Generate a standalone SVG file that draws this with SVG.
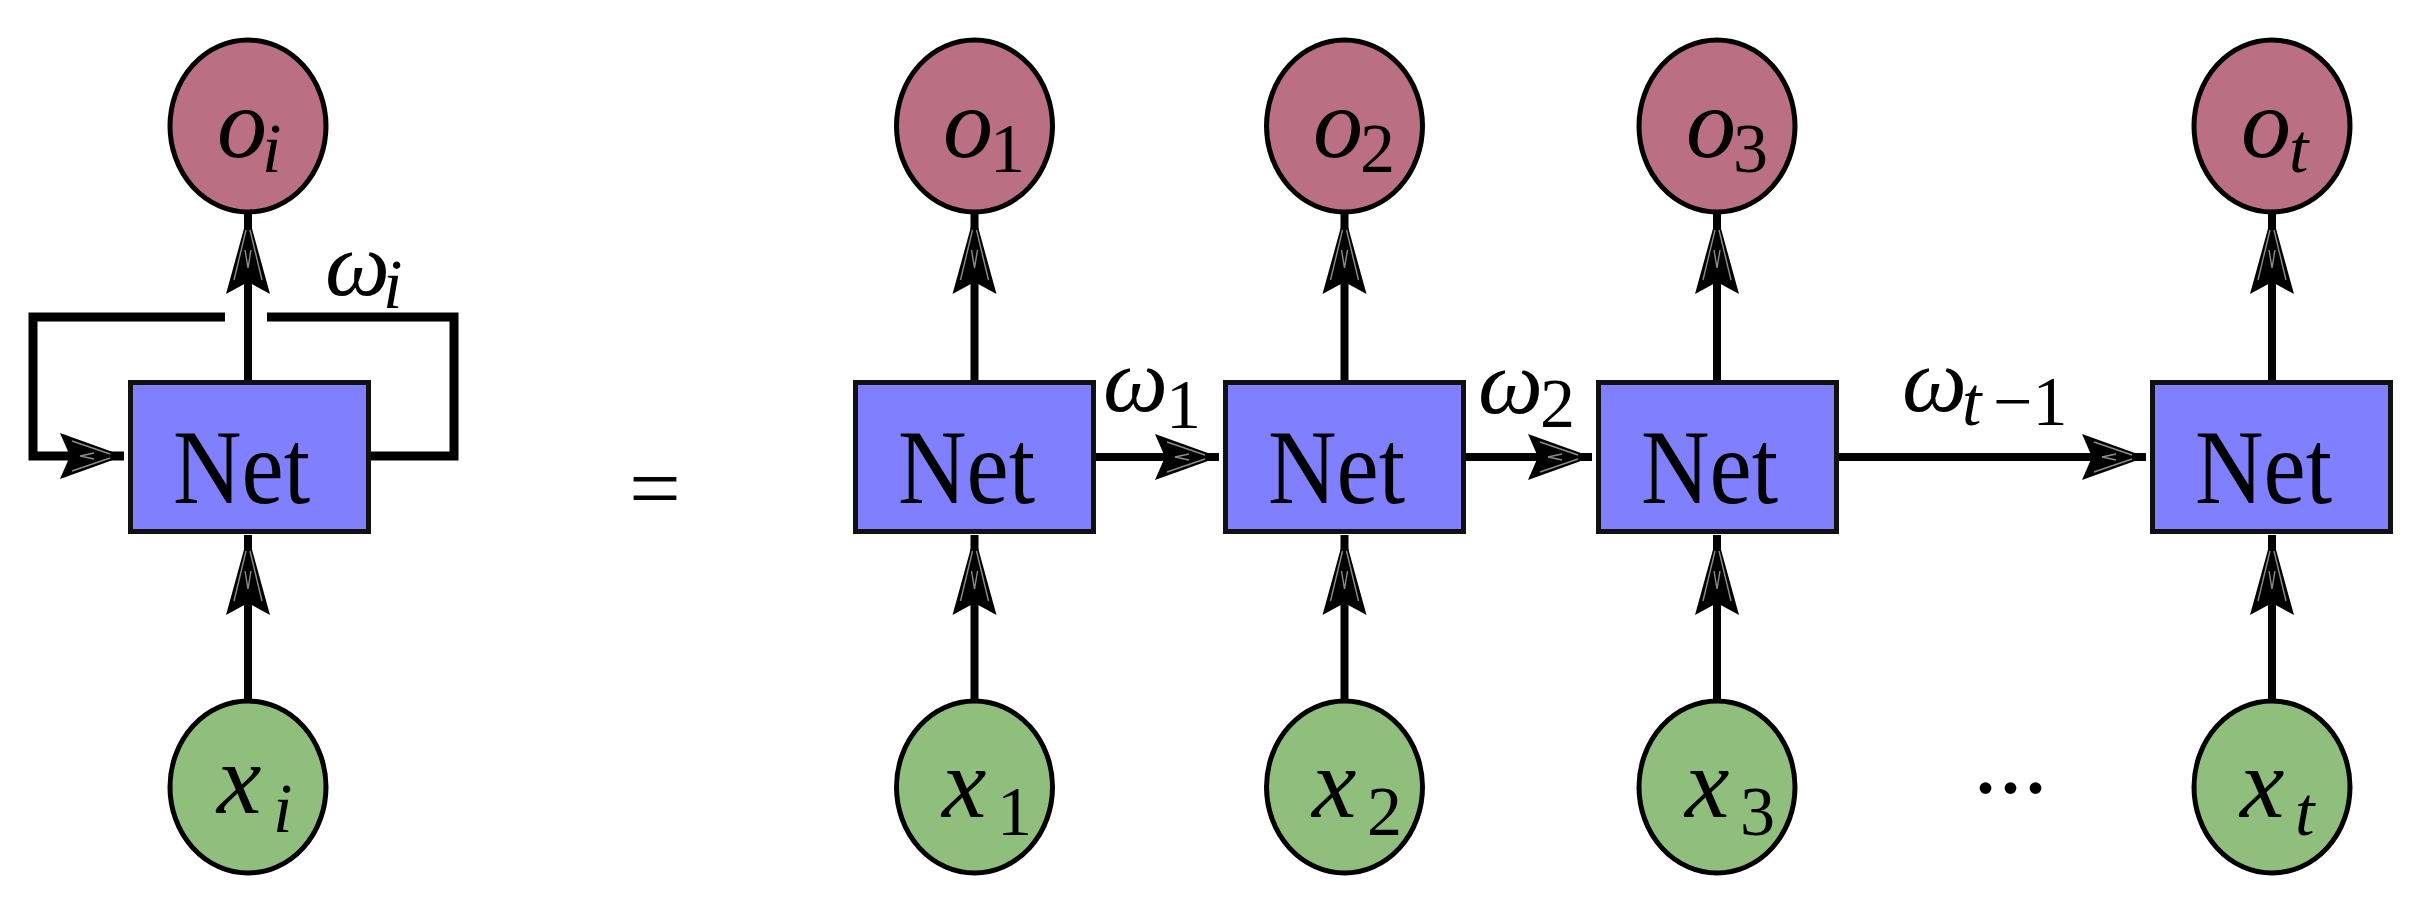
<svg xmlns="http://www.w3.org/2000/svg" width="2426" height="922" viewBox="0 0 2426 922">
<style>
.bg{fill:#fff}
.net rect{fill:#8080FF;stroke:#111;stroke-width:5}
.net text{font-family:"Liberation Serif","Times New Roman",serif;font-size:106px;fill:#000}
.out ellipse{fill:#BA7082;stroke:#000;stroke-width:5}
.inp ellipse{fill:#8FBE7D;stroke:#000;stroke-width:5}
.m{font-family:"Liberation Serif","Times New Roman",serif;font-style:italic;font-size:100px;fill:#000}
.s{font-size:70px}
.r{font-style:normal}
.w{font-family:"Liberation Serif","Times New Roman",serif;font-style:italic;font-size:92px;fill:#000}
.eq{font-family:"Liberation Serif","Times New Roman",serif;font-size:92px;fill:#000}
.edge{fill:none;stroke:#000;stroke-width:8}
.loop{fill:none;stroke:#000;stroke-width:9}
</style>
<defs>
<marker id="ah" markerUnits="userSpaceOnUse" viewBox="-70 -25 75 50" markerWidth="75" markerHeight="50" refX="0" refY="0" orient="auto" overflow="visible">
<path d="M0,0 L-64,-23 L-54,0 L-64,23 Z" fill="#000"/>
<path d="M-14,-2 L-52,-15 M-14,2 L-52,15 M-30,-3 L-44,0 L-30,3" stroke="#fff" stroke-width="1.4" opacity="0.55" fill="none"/>
</marker>
<marker id="av" markerUnits="userSpaceOnUse" viewBox="-85 -25 90 50" markerWidth="90" markerHeight="50" refX="0" refY="0" orient="auto" overflow="visible">
<path d="M0,0 L-80,-22 L-68,0 L-80,22 Z" fill="#000"/>
<path d="M-16,-2 L-66,-14 M-16,2 L-66,14 M-36,-3 L-54,0 L-36,3" stroke="#fff" stroke-width="1.4" opacity="0.55" fill="none"/>
</marker>
</defs>
<rect class="bg" x="0" y="0" width="2426" height="922"/>

<g id="connectors">
<path class="edge" d="M248,380 L248,214" marker-end="url(#av)"/>
<path class="edge" d="M248,701 L248,535" marker-end="url(#av)"/>
<path class="loop" d="M370,456 L454,456 L454,317 L267,317"/>
<path class="loop" d="M225,317 L33,317 L33,456 L124,456" marker-end="url(#ah)"/>
<path class="edge" d="M974.5,380 L974.5,214" marker-end="url(#av)"/>
<path class="edge" d="M974.5,701 L974.5,535" marker-end="url(#av)"/>
<path class="edge" d="M1344.5,380 L1344.5,214" marker-end="url(#av)"/>
<path class="edge" d="M1344.5,701 L1344.5,535" marker-end="url(#av)"/>
<path class="edge" d="M1717,380 L1717,214" marker-end="url(#av)"/>
<path class="edge" d="M1717,701 L1717,535" marker-end="url(#av)"/>
<path class="edge" d="M2272,380 L2272,214" marker-end="url(#av)"/>
<path class="edge" d="M2272,701 L2272,535" marker-end="url(#av)"/>
<path class="edge" d="M1096,457 L1219,457" marker-end="url(#ah)"/>
<path class="edge" d="M1466,457 L1592,457" marker-end="url(#ah)"/>
<path class="edge" d="M1838,457 L2146,457" marker-end="url(#ah)"/>
</g>

<g id="labels">
<text class="w" x="325" y="295">ω<tspan class="s" x="383" y="308">i</tspan></text>
<text class="w" x="1103" y="411">ω<tspan class="s r" x="1166" y="428">1</tspan></text>
<text class="w" x="1478" y="413">ω<tspan class="s r" x="1540" y="427">2</tspan></text>
<text class="w" x="1902" y="411">ω<tspan class="s" x="1962" y="425">t</tspan><tspan class="s r" x="1993" y="425">−1</tspan></text>
<text class="eq" x="629" y="519">=</text>
<text class="eq" x="1973" y="793" style="font-size:100px">...</text>
</g>

<g id="net-fold" class="net"><rect x="130.5" y="382.5" width="238" height="149"/><text x="173" y="503" textLength="137" lengthAdjust="spacingAndGlyphs">Net</text></g>
<g id="net-1" class="net"><rect x="855.5" y="382.5" width="238" height="149"/><text x="898" y="503" textLength="137" lengthAdjust="spacingAndGlyphs">Net</text></g>
<g id="net-2" class="net"><rect x="1225.5" y="382.5" width="238" height="149"/><text x="1268" y="503" textLength="137" lengthAdjust="spacingAndGlyphs">Net</text></g>
<g id="net-3" class="net"><rect x="1598.5" y="382.5" width="238" height="149"/><text x="1641" y="503" textLength="137" lengthAdjust="spacingAndGlyphs">Net</text></g>
<g id="net-t" class="net"><rect x="2152.5" y="382.5" width="238" height="149"/><text x="2195" y="503" textLength="137" lengthAdjust="spacingAndGlyphs">Net</text></g>

<g id="o-i" class="out"><ellipse cx="248" cy="126" rx="78" ry="86"/><text class="m" x="217" y="157">o<tspan class="s" x="262" y="172">i</tspan></text></g>
<g id="o-1" class="out"><ellipse cx="974.5" cy="126" rx="78" ry="86"/><text class="m" x="943" y="157">o<tspan class="s r" x="990" y="172">1</tspan></text></g>
<g id="o-2" class="out"><ellipse cx="1344.5" cy="126" rx="78" ry="86"/><text class="m" x="1313" y="157">o<tspan class="s r" x="1360" y="172">2</tspan></text></g>
<g id="o-3" class="out"><ellipse cx="1717" cy="126" rx="78" ry="86"/><text class="m" x="1686" y="157">o<tspan class="s r" x="1733" y="172">3</tspan></text></g>
<g id="o-t" class="out"><ellipse cx="2272" cy="126" rx="78" ry="86"/><text class="m" x="2241" y="157">o<tspan class="s" x="2289" y="172">t</tspan></text></g>

<g id="x-i" class="inp"><ellipse cx="248" cy="787" rx="78" ry="86"/><text class="m" x="217" y="813">x<tspan class="s" x="273" y="832">i</tspan></text></g>
<g id="x-1" class="inp"><ellipse cx="974.5" cy="787" rx="78" ry="86"/><text class="m" x="942" y="817">x<tspan class="s r" x="997" y="835">1</tspan></text></g>
<g id="x-2" class="inp"><ellipse cx="1344.5" cy="787" rx="78" ry="86"/><text class="m" x="1312" y="817">x<tspan class="s r" x="1367" y="835">2</tspan></text></g>
<g id="x-3" class="inp"><ellipse cx="1717" cy="787" rx="78" ry="86"/><text class="m" x="1685" y="817">x<tspan class="s r" x="1740" y="835">3</tspan></text></g>
<g id="x-t" class="inp"><ellipse cx="2272" cy="787" rx="78" ry="86"/><text class="m" x="2240" y="817">x<tspan class="s" x="2295" y="835">t</tspan></text></g>
</svg>
